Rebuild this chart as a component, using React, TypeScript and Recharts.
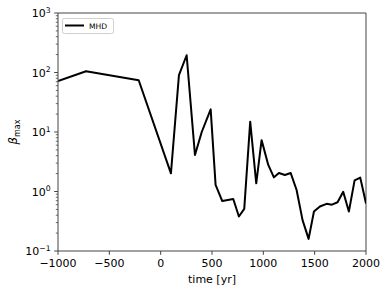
import React from 'react';
import { LineChart, Line, XAxis, YAxis, ReferenceLine, Legend } from 'recharts';

const times = [-1000, -727, -214, 100, 178, 253, 334, 400, 487, 535, 600, 707, 762, 814, 872, 931, 983, 1048, 1103, 1152, 1210, 1266, 1324, 1382, 1441, 1493, 1551, 1616, 1668, 1723, 1778, 1833, 1889, 1944, 2000];
const betaMax = [72, 105, 74, 2.02, 90, 195, 4.1, 10, 24, 1.29, 0.69, 0.75, 0.38, 0.51, 14.9, 1.37, 7.3, 2.8, 1.73, 2.05, 1.89, 2.05, 1.06, 0.33, 0.16, 0.46, 0.56, 0.62, 0.6, 0.66, 0.99, 0.46, 1.54, 1.71, 0.63];

const xTicks = [-1000, -500, 0, 500, 1000, 1500, 2000];
const yMajorTicks = [0.1, 1, 10, 100, 1000];
const yMajorExponents = ['−1', '0', '1', '2', '3'];
const yMinorMultipliers = [2, 3, 4, 5, 6, 7, 8, 9];
const seriesName = 'MHD';

const data = times.map((t, i) => ({ time: t, beta: betaMax[i] }));
const yAllTicks: number[] = [];
yMajorTicks.forEach((m, i) => {
  yAllTicks.push(m);
  if (i < yMajorTicks.length - 1) yMinorMultipliers.forEach((k) => yAllTicks.push(+(m * k).toPrecision(3)));
});

const FONT = 'DejaVu Sans';
const AX = '#444';

const XTick = (props: any) => {
  const { x, y, payload } = props;
  const v = payload.value as number;
  const label = v < 0 ? '−' + Math.abs(v) : String(v);
  return (
    <g>
      <line x1={x} x2={x} y1={y} y2={y + 3.8} stroke={AX} strokeWidth={1} />
      <text x={x} y={y + 15.5} textAnchor="middle" fontFamily={FONT} fontSize={11} fill="#000">{label}</text>
    </g>
  );
};

const YTick = (props: any) => {
  const { x, y, payload } = props;
  const v = payload.value as number;
  const idx = yMajorTicks.findIndex((m) => Math.abs(m - v) < 1e-9);
  if (idx < 0) {
    return <line x1={x} x2={x - 2.2} y1={y} y2={y} stroke={AX} strokeWidth={0.8} />;
  }
  return (
    <g>
      <line x1={x} x2={x - 3.8} y1={y} y2={y} stroke={AX} strokeWidth={1} />
      <text x={x - 7.3} y={y + 4.3} textAnchor="end" fontFamily={FONT} fontSize={11} fill="#000">
        10<tspan fontSize={7.7} dy={-4.6}>{yMajorExponents[idx]}</tspan>
      </text>
    </g>
  );
};

const YLabel = () => (
  <text transform="translate(17,132) rotate(-90)" textAnchor="middle" fontFamily={FONT} fill="#000">
    <tspan fontSize={11.5} fontStyle="italic">β</tspan>
    <tspan fontSize={8} dy={2.5}>max</tspan>
  </text>
);

const LegendBox = () => (
  <svg width={53} height={17} style={{ display: 'block' }}>
    <rect x={0.5} y={0.5} width={51} height={15} rx={2} ry={2} fill="#fff" fillOpacity={0.8} stroke="#d0d0d0" strokeWidth={1} />
    <line x1={3} x2={22} y1={7.5} y2={7.5} stroke="#000" strokeWidth={2} />
    <text x={27} y={10.5} fontFamily={FONT} fontSize={7.6} fill="#000">{seriesName}</text>
  </svg>
);

export default function App() {
  return (
    <div style={{ position: 'absolute', left: 0, top: 0, background: '#fff' }}>
      <LineChart width={390} height={293} data={data} margin={{ top: 13, right: 24, bottom: 0, left: 0 }}>
        <XAxis
          dataKey="time"
          type="number"
          domain={[-1000, 2000]}
          ticks={xTicks}
          interval={0}
          tick={<XTick />}
          tickLine={false}
          tickSize={0}
          tickMargin={0}
          height={42}
          axisLine={{ stroke: AX, strokeWidth: 1 }}
          allowDataOverflow
          label={{ value: 'time [yr]', position: 'insideBottom', offset: 10, fontFamily: FONT, fontSize: 11, fill: '#000' }}
        />
        <YAxis
          type="number"
          scale="log"
          domain={[0.1, 1000]}
          ticks={yAllTicks}
          interval={0}
          tick={<YTick />}
          tickLine={false}
          tickSize={0}
          tickMargin={0}
          width={58}
          axisLine={{ stroke: AX, strokeWidth: 1 }}
          allowDataOverflow
          label={<YLabel />}
        />
        <ReferenceLine y={1000} stroke={AX} strokeWidth={1} />
        <ReferenceLine x={2000} stroke={AX} strokeWidth={1} />
        <Legend
          layout="horizontal"
          verticalAlign="middle"
          align="center"
          content={<LegendBox />}
          wrapperStyle={{ position: 'absolute', left: 62, top: 18, width: 53, height: 17 }}
        />
        <Line
          type="linear"
          dataKey="beta"
          name={seriesName}
          stroke="#000"
          strokeWidth={2}
          dot={false}
          isAnimationActive={false}
          strokeLinejoin="round"
        />
      </LineChart>
    </div>
  );
}
